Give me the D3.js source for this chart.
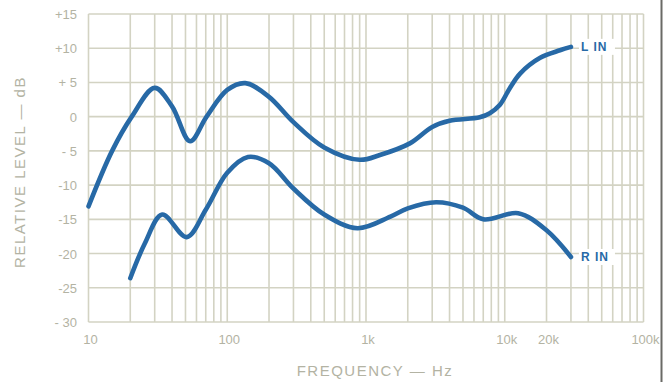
<!DOCTYPE html>
<html>
<head>
<meta charset="utf-8">
<script src="https://cdn.jsdelivr.net/npm/d3@7"></script>
<style>
  html, body { margin: 0; padding: 0; background: #fff; }
  #chart { width: 669px; height: 382px; }
  .grid line { stroke: #d3d3c3; stroke-width: 1.6; }
  .tick-label { fill: #b3b3a3; font-family: "Liberation Sans", Arial, sans-serif; font-size: 13px; }
  .axis-title { fill: #b3b3a3; font-family: "Liberation Sans", Arial, sans-serif; font-size: 15px; letter-spacing: 1.5px; }
  .curve { fill: none; stroke: #2769a6; stroke-width: 4.6; stroke-linecap: round; stroke-linejoin: round; }
  .curve-label { fill: #2769a6; font-family: "Liberation Sans", Arial, sans-serif; font-size: 12px; font-weight: bold; letter-spacing: 1px; }
</style>
</head>
<body>
<div id="chart"></div>
<script>
// frequency response
const lFreq = [10, 14.8, 20.5, 30, 40, 54, 71, 100, 135, 200, 300, 500, 900, 1260, 2070, 3000, 4000, 6600, 7800, 9200, 10900, 12900, 18000, 25000, 30000];
const lLevel = [-13.1, -5, 0, 4.2, 1.5, -3.6, 0, 3.9, 4.9, 2.9, -0.8, -4.5, -6.3, -5.6, -3.9, -1.5, -0.6, -0.1, 0.5, 1.7, 4.2, 6.3, 8.6, 9.7, 10.2];

const rFreq = [20, 25.5, 34, 51, 70, 100, 141, 200, 300, 500, 870, 1500, 2000, 3200, 5000, 7000, 12500, 20000, 30000];
const rLevel = [-23.6, -18.5, -14.3, -17.6, -13.6, -8.2, -5.9, -6.8, -10.5, -14.3, -16.3, -14.6, -13.4, -12.5, -13.3, -15, -14.1, -16.6, -20.5];

const yTicks = [15, 10, 5, 0, -5, -10, -15, -20, -25, -30];
const yTickLabels = ['+15', '+10', '+ 5', '0', '- 5', '-10', '-15', '-20', '-25', '- 30'];
const xTicks = [10, 100, 1000, 10000, 20000, 100000];
const xTickLabels = ['10', '100', '1k', '10k', '20k', '100k'];
const seriesNames = ['L IN', 'R IN'];

function createChart() {
    const svg = d3.select('#chart').append('svg')
        .attr('width', 669)
        .attr('height', 382);

    const x = d3.scaleLog().domain([10, 100000]).range([88.5, 643.5]);
    const y = d3.scaleLinear().domain([-30, 15]).range([322, 14]);

    // log grid: 1..9 in every decade
    const vLines = [];
    for (let dec = 10; dec < 100000; dec *= 10) {
        for (let m = 1; m < 10; m++) vLines.push(dec * m);
    }
    vLines.push(100000);

    const grid = svg.append('g').attr('class', 'grid');
    grid.selectAll('.v').data(vLines).enter().append('line')
        .attr('x1', d => x(d)).attr('x2', d => x(d))
        .attr('y1', y(15)).attr('y2', y(-30));
    grid.selectAll('.h').data(yTicks).enter().append('line')
        .attr('x1', x(10)).attr('x2', x(100000))
        .attr('y1', d => y(d)).attr('y2', d => y(d));

    // tick labels
    svg.append('g').selectAll('text').data(yTicks).enter().append('text')
        .attr('class', 'tick-label')
        .attr('x', 77)
        .attr('y', d => y(d) + 5)
        .attr('text-anchor', 'end')
        .text((d, i) => yTickLabels[i]);

    svg.append('g').selectAll('text').data(xTicks).enter().append('text')
        .attr('class', 'tick-label')
        .attr('x', d => x(d) + 2)
        .attr('y', 344)
        .attr('text-anchor', 'middle')
        .text((d, i) => xTickLabels[i]);

    // axis titles
    svg.append('text')
        .attr('class', 'axis-title')
        .attr('transform', 'translate(25,172) rotate(-90)')
        .attr('text-anchor', 'middle')
        .text('RELATIVE LEVEL — dB');

    svg.append('text')
        .attr('class', 'axis-title')
        .attr('x', 375)
        .attr('y', 376)
        .attr('text-anchor', 'middle')
        .text('FREQUENCY — Hz');

    const line = d3.line()
        .x(d => x(d[0]))
        .y(d => y(d[1]))
        .curve(d3.curveCatmullRom.alpha(0.5));

    const series = [
        d3.zip(lFreq, lLevel),
        d3.zip(rFreq, rLevel)
    ];

    svg.append('g').selectAll('path').data(series).enter().append('path')
        .attr('class', 'curve')
        .attr('d', line);

    // end labels with white knock-out behind them
    const labels = svg.append('g').selectAll('g').data(series).enter().append('g')
        .attr('transform', d => {
            const last = d[d.length - 1];
            return `translate(${x(last[0]) + 10},${y(last[1])})`;
        });
    labels.append('rect')
        .attr('x', -2).attr('y', -8).attr('width', 36).attr('height', 16)
        .attr('fill', '#fff');
    labels.append('text')
        .attr('class', 'curve-label')
        .attr('y', 4.5)
        .text((d, i) => seriesNames[i]);

    // scan edge on the right
    svg.append('line')
        .attr('x1', 661.5).attr('x2', 661.5)
        .attr('y1', 0).attr('y2', 382)
        .attr('stroke', '#6a6a66').attr('stroke-width', 2);
}

createChart();
</script>
</body>
</html>
